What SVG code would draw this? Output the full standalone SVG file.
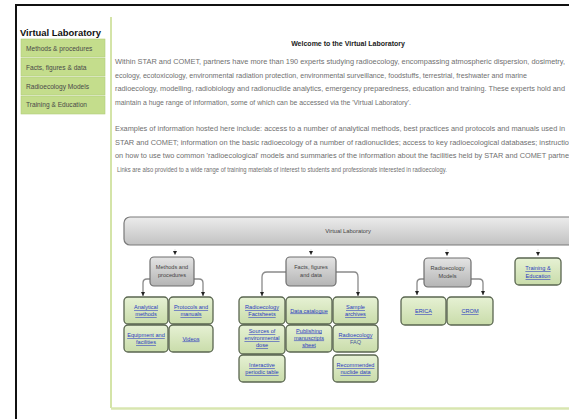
<svg xmlns="http://www.w3.org/2000/svg" width="569" height="419" viewBox="0 0 569 419">
<defs>
<linearGradient id="gBar" x1="0" y1="0" x2="0" y2="1"><stop offset="0" stop-color="#ececec"/><stop offset="1" stop-color="#c2c2c2"/></linearGradient>
<linearGradient id="gGray" x1="0" y1="0" x2="0" y2="1"><stop offset="0" stop-color="#e4e4e4"/><stop offset="1" stop-color="#b4b4b4"/></linearGradient>
<linearGradient id="gGreen" x1="0" y1="0" x2="0" y2="1"><stop offset="0" stop-color="#e6f1d4"/><stop offset="1" stop-color="#c9dcaa"/></linearGradient>
<marker id="arr" viewBox="0 0 6 6" refX="6" refY="3" markerWidth="4" markerHeight="4" markerUnits="userSpaceOnUse" orient="auto"><path d="M0,0 L6,3 L0,6 z" fill="#222"/></marker>
<style>
text{font-family:"Liberation Sans",Arial,sans-serif}
.menu{fill:#c4dd8c;stroke:#b3cc7c;stroke-width:0.6}
.mtxt{font-size:6.6px;fill:#4a4a4a}
.para{font-size:6.6px;fill:#707070}
.g2{fill:url(#gGray);stroke:#6e6e6e;stroke-width:1.2}
.g3{fill:url(#gGreen);stroke:#5a6650;stroke-width:1.3}
.t2{font-size:5.6px;fill:#444;text-anchor:middle}
.t3{font-size:5.6px;fill:#2a3ac0;text-anchor:middle;text-decoration:underline}
.con{fill:none;stroke:#8a8a8a;stroke-width:1.3;marker-end:url(#arr)}
.stub{fill:none;stroke:#d0d0d0;stroke-width:0.6;marker-end:url(#arr)}
</style>
</defs>
<rect x="0" y="0" width="569" height="419" fill="#fff"/>
<line x1="16" y1="5" x2="569" y2="5" stroke="#111" stroke-width="2"/>
<line x1="16" y1="4" x2="16" y2="419" stroke="#111" stroke-width="2"/>
<line x1="111" y1="17" x2="111" y2="408" stroke="#d4e4a8" stroke-width="2"/>
<line x1="111" y1="408.5" x2="569" y2="408.5" stroke="#d8e6b0" stroke-width="2.5"/>

<g id="sidebar">
<text x="20" y="36" font-size="9" font-weight="bold" fill="#111" textLength="81" lengthAdjust="spacingAndGlyphs">Virtual Laboratory</text>
<rect class="menu" x="21" y="39" width="84" height="18"/>
<rect class="menu" x="21" y="58" width="84" height="18"/>
<rect class="menu" x="21" y="77" width="84" height="18"/>
<rect class="menu" x="21" y="96" width="84" height="18"/>
<text class="mtxt" x="26" y="50.5">Methods &amp; procedures</text>
<text class="mtxt" x="26" y="69.5">Facts, figures &amp; data</text>
<text class="mtxt" x="26" y="88.5">Radioecology Models</text>
<text class="mtxt" x="26" y="107">Training &amp; Education</text>
</g>

<g id="content">
<text x="348" y="45.5" font-size="7" font-weight="bold" fill="#222" text-anchor="middle">Welcome to the Virtual Laboratory</text>
<text class="para" x="115" y="64" textLength="450" lengthAdjust="spacingAndGlyphs">Within STAR and COMET, partners have more than 190 experts studying radioecology, encompassing atmospheric dispersion, dosimetry,</text>
<text class="para" x="115" y="77.5" textLength="412" lengthAdjust="spacingAndGlyphs">ecology, ecotoxicology, environmental radiation protection, environmental surveillance, foodstuffs, terrestrial, freshwater and marine</text>
<text class="para" x="115" y="91" textLength="450" lengthAdjust="spacingAndGlyphs">radioecology, modelling, radiobiology and radionuclide analytics, emergency preparedness, education and training. These experts hold and</text>
<text class="para" x="115" y="104.5" textLength="296" lengthAdjust="spacingAndGlyphs">maintain a huge range of information, some of which can be accessed via the 'Virtual Laboratory'.</text>
<text class="para" x="115" y="131" textLength="450" lengthAdjust="spacingAndGlyphs">Examples of information hosted here include: access to a number of analytical methods, best practices and protocols and manuals used in</text>
<text class="para" x="115" y="144.5" textLength="454" lengthAdjust="spacingAndGlyphs">STAR and COMET; information on the basic radioecology of a number of radionuclides; access to key radioecological databases; instructio</text>
<text class="para" x="115" y="158" textLength="454" lengthAdjust="spacingAndGlyphs">on how to use two common 'radioecological' models and summaries of the information about the facilities held by STAR and COMET partne</text>
<text class="para" x="117" y="171.5" textLength="330" lengthAdjust="spacingAndGlyphs">Links are also provided to a wide range of training materials of interest to students and professionals interested in radioecology.</text>
</g>

<g id="connectors">
<path class="stub" d="M175,249 V255"/>
<path class="stub" d="M311,249 V255"/>
<path class="stub" d="M447,249 V256"/>
<path class="stub" d="M538,249 V256"/>
<path class="con" d="M150,279 H147 Q143,279 143,283 V296"/>
<path class="con" d="M194,279 H199 Q203,279 203,283 V296"/>
<path class="con" d="M286,272 H267 Q262,272 262,277 V296"/>
<path class="con" d="M336,272 H354 Q358,272 358,277 V296"/>
<path class="con" d="M424,279 H421 Q417,279 417,283 V295"/>
<path class="con" d="M471,279 H479 Q483,279 483,283 V295"/>
</g>

<g id="n-root">
<rect x="124" y="217" width="452" height="28" rx="6" fill="url(#gBar)" stroke="#7a7a7a" stroke-width="1.2"/>
<text x="348" y="233" font-size="5.8" fill="#444" text-anchor="middle">Virtual Laboratory</text>
</g>

<g id="n-methods"><rect class="g2" x="150" y="257" width="44" height="29" rx="4"/><text class="t2" x="172" y="269">Methods and</text><text class="t2" x="172" y="277">procedures</text></g>
<g id="n-facts"><rect class="g2" x="286" y="257" width="50" height="29" rx="4"/><text class="t2" x="311" y="269">Facts, figures</text><text class="t2" x="311" y="277">and data</text></g>
<g id="n-models"><rect class="g2" x="424" y="258" width="47" height="29" rx="4"/><text class="t2" x="447.5" y="270">Radioecology</text><text class="t2" x="447.5" y="278">Models</text></g>
<g id="n-training"><rect class="g3" x="515" y="258" width="46" height="27" rx="4"/><text class="t3" x="538" y="270">Training &amp;</text><text class="t3" x="538" y="278">Education</text></g>

<g id="n-analytical"><rect class="g3" x="124" y="297" width="44" height="27" rx="4"/><text class="t3" x="146" y="309">Analytical</text><text class="t3" x="146" y="316">methods</text></g>
<g id="n-protocols"><rect class="g3" x="169" y="297" width="44" height="27" rx="4"/><text class="t3" x="191" y="309">Protocols and</text><text class="t3" x="191" y="316">manuals</text></g>
<g id="n-equipment"><rect class="g3" x="124" y="325" width="44" height="27" rx="4"/><text class="t3" x="146" y="337">Equipment and</text><text class="t3" x="146" y="344">facilities</text></g>
<g id="n-videos"><rect class="g3" x="169" y="325" width="44" height="27" rx="4"/><text class="t3" x="191" y="340.5">Videos</text></g>

<g id="n-factsheets"><rect class="g3" x="239" y="297" width="46" height="27" rx="4"/><text class="t3" x="262" y="309">Radioecology</text><text class="t3" x="262" y="316">Factsheets</text></g>
<g id="n-datacat"><rect class="g3" x="286" y="297" width="46" height="27" rx="4"/><text class="t3" x="309" y="312.5">Data catalogue</text></g>
<g id="n-archives"><rect class="g3" x="333" y="297" width="45" height="27" rx="4"/><text class="t3" x="355.5" y="309">Sample</text><text class="t3" x="355.5" y="316">archives</text></g>
<g id="n-sources"><rect class="g3" x="239" y="325" width="46" height="29" rx="4"/><text class="t3" x="262" y="333">Sources of</text><text class="t3" x="262" y="340">environmental</text><text class="t3" x="262" y="347">dose</text></g>
<g id="n-publishing"><rect class="g3" x="286" y="325" width="46" height="27" rx="4"/><text class="t3" x="309" y="332.5">Publishing</text><text class="t3" x="309" y="339.5">manuscripts</text><text class="t3" x="309" y="346.5">sheet</text></g>
<g id="n-faq"><rect class="g3" x="333" y="325" width="45" height="27" rx="4"/><text class="t3" x="355.5" y="337">Radioecology</text><text x="355.5" y="344" font-size="5.6" fill="#4a5a9a" text-anchor="middle">FAQ</text></g>
<g id="n-periodic"><rect class="g3" x="239" y="355" width="46" height="27" rx="4"/><text class="t3" x="262" y="367">Interactive</text><text class="t3" x="262" y="374">periodic table</text></g>
<g id="n-nuclide"><rect class="g3" x="333" y="355" width="45" height="27" rx="4"/><text class="t3" x="355.5" y="367">Recommended</text><text class="t3" x="355.5" y="374">nuclide data</text></g>

<g id="n-erica"><rect class="g3" x="401" y="297" width="45" height="28" rx="4"/><text class="t3" x="423.5" y="313">ERICA</text></g>
<g id="n-crom"><rect class="g3" x="447" y="297" width="46" height="28" rx="4"/><text class="t3" x="470" y="313">CROM</text></g>
</svg>
